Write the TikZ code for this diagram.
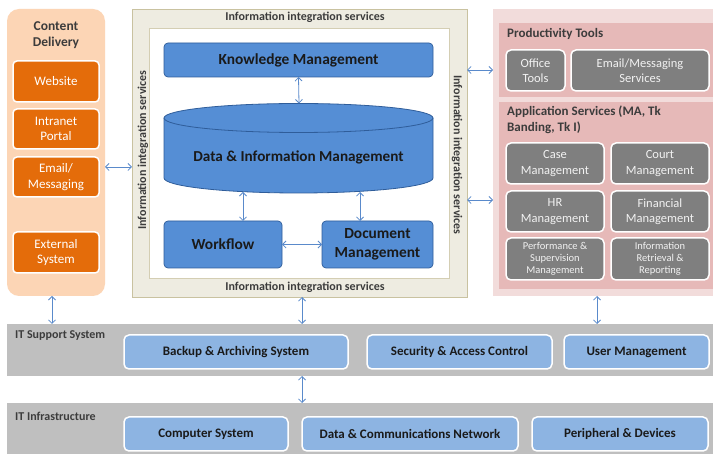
\documentclass[tikz,border=0pt]{standalone}
\usepackage{fontspec}
\setmainfont{Carlito}
\usetikzlibrary{arrows.meta}
\definecolor{cdpanel}{HTML}{FCD5B5}
\definecolor{cdbox}{HTML}{E46C0A}
\definecolor{midout}{HTML}{EEECE1}
\definecolor{midline}{HTML}{C9C2A0}
\definecolor{blu}{HTML}{558ED5}
\definecolor{bluline}{HTML}{2F5D9A}
\definecolor{rpanel}{HTML}{F2DCDB}
\definecolor{rsub}{HTML}{E6B9B8}
\definecolor{gbox}{HTML}{7F7F7F}
\definecolor{band}{HTML}{BFBFBF}
\definecolor{lblu}{HTML}{8DB4E2}
\definecolor{arrc}{HTML}{5A8ACB}
\definecolor{txt}{HTML}{1A1A1A}
\tikzset{
  rect/.style args={#1x#2}{rectangle, minimum width=#1pt, minimum height=#2pt, inner sep=0pt, outer sep=0pt},
  cdp/.style={fill=cdpanel, rounded corners=12pt},
  obox/.style={fill=cdbox, draw=white, line width=1.5pt, rounded corners=4pt, text=white, font=\fontsize{13}{15.5}\selectfont, align=center},
  bbox/.style={fill=blu, draw=bluline, line width=0.7pt, rounded corners=4pt, text=txt, font=\fontsize{15.4}{19}\selectfont\bfseries, align=center},
  gb/.style={fill=gbox, draw=white, line width=1.5pt, rounded corners=5pt, text=white!95!black, font=\fontsize{12.5}{15.5}\selectfont, align=center},
  gbs/.style={fill=gbox, draw=white, line width=1.5pt, rounded corners=5pt, text=white!95!black, font=\fontsize{10.5}{12}\selectfont, align=center},
  lb/.style={fill=lblu, draw=white, line width=1.5pt, rounded corners=5pt, text=txt, font=\fontsize{13}{15}\selectfont\bfseries, align=center},
  iis/.style={text=txt!85, font=\fontsize{12}{14}\selectfont\bfseries, inner sep=0pt},
  ttl/.style={text=txt!85, font=\fontsize{13}{15.5}\selectfont\bfseries, inner sep=0pt, align=left},
  bandlbl/.style={text=txt!85, font=\fontsize{12}{14}\selectfont\bfseries, inner sep=0pt, anchor=west},
  arr/.style={draw=arrc, line width=0.8pt, {Straight Barb[length=3.5pt,width=7pt]}-{Straight Barb[length=3.5pt,width=7pt]}},
}
\begin{document}
\begin{tikzpicture}[x=1pt,y=-1pt]
\useasboundingbox (0,0) rectangle (713,454);
\fill[white] (0,0) rectangle (713,454);

% Content delivery
\node[rect=98x287, cdp] (cd) at (56,152.5) {};
\node[ttl, align=center, font=\fontsize{13.5}{16}\selectfont\bfseries] (cdt) at (56,35) {Content\\Delivery};
\node[rect=86x41, obox] (web) at (56,81.5) {Website};
\node[rect=86x40, obox] (intra) at (56,129) {Intranet\\Portal};
\node[rect=86x40, obox] (email) at (56,177) {Email/\\Messaging};
\node[rect=86x41, obox] (ext) at (56,252.5) {External\\System};

% Middle
\node[rect=335x288, fill=midout, draw=midline, line width=0.8pt] (mid) at (299.5,153) {};
\node[rect=300x250, fill=white, draw=midline!80, line width=0.8pt] (inner) at (299,153) {};
\node[iis] (iistop) at (305,17) {Information integration services};
\node[iis] (iisbot) at (305,287) {Information integration services};
\node[iis, rotate=90] (iisl) at (143,150) {Information integration services};
\node[iis, rotate=-90] (iisr) at (457,155) {Information integration services};

\node[rect=269x34, bbox] (km) at (298.5,60) {Knowledge Management};
% cylinder
\fill[blu] (164,118) -- (164,178) arc[start angle=180, end angle=360, x radius=134.5pt, y radius=15pt] -- (433,118) -- cycle;
\draw[bluline, line width=0.8pt] (164,118) -- (164,178) arc[start angle=180, end angle=360, x radius=134.5pt, y radius=15pt] -- (433,118);
\draw[bluline, line width=0.8pt, fill=blu] (298.5,118) ellipse[x radius=134.5pt, y radius=14.5pt];
\node[text=txt, font=\fontsize{15.2}{19}\selectfont\bfseries, inner sep=0pt] (dim) at (298.5,157) {Data \& Information Management};
\coordinate (cyltop) at (299,103.5);
\coordinate (cylb1) at (243,192);
\coordinate (cylb2) at (360,192);

\node[rect=118x47, bbox] (wf) at (223,244.5) {Workflow};
\node[rect=111x47, bbox] (dm) at (377.5,244.5) {Document\\Management};

% Right
\node[rect=220x287, fill=rpanel] (rp) at (603,152.5) {};
\node[rect=214x74, fill=rsub] (prod) at (606,60) {};
\node[rect=214x187, fill=rsub] (app) at (606,195.5) {};
\node[ttl, anchor=west] (prodt) at (507,34) {Productivity Tools};
\node[ttl, anchor=north west] (appt) at (507,106) {Application Services (MA, Tk\\Banding, Tk I)};
\node[rect=59x41, gb] (office) at (535.5,70.5) {Office\\Tools};
\node[rect=138x41, gb] (ems) at (640,70.5) {Email/Messaging\\Services};
\node[rect=98x41, gb] (case) at (555,163.5) {Case\\Management};
\node[rect=98x41, gb] (court) at (660,163.5) {Court\\Management};
\node[rect=98x41, gb] (hr) at (555,211.5) {HR\\Management};
\node[rect=98x41, gb] (fin) at (660,211.5) {Financial\\Management};
\node[rect=98x42, gbs] (perf) at (555,259) {Performance \&\\Supervision\\Management};
\node[rect=98x42, gbs] (info) at (660,259) {Information\\Retrieval \&\\Reporting};

% Bottom bands
\node[rect=706x52, fill=band] (sup) at (360,350) {};
\node[bandlbl] (supl) at (15,336) {IT Support System};
\node[rect=224x34, lb] (backup) at (236,352) {Backup \& Archiving System};
\node[rect=185x34, lb] (sec) at (459.5,352) {Security \& Access Control};
\node[rect=145x34, lb] (user) at (636.5,352) {User Management};

\node[rect=706x52, fill=band] (infra) at (360,429) {};
\node[bandlbl] (infral) at (15,416) {IT Infrastructure};
\node[rect=164x34, lb] (comp) at (206,434) {Computer System};
\node[rect=216x34, lb] (net) at (410,434) {Data \& Communications Network};
\node[rect=176x34, lb] (peri) at (620,434) {Peripheral \& Devices};

% Arrows
\draw[arr] (km.south) -- (cyltop);
\draw[arr] (cylb1) -- (cylb1 |- wf.north);
\draw[arr] (cylb2) -- (cylb2 |- dm.north);
\draw[arr] (wf.east) -- (dm.west);
\draw[arr] ([yshift=-14.5pt]cd.east) -- ([yshift=-14.5pt]cd.east -| mid.west);
\draw[arr] (mid.east |- 0,70) -- (rp.west |- 0,70);
\draw[arr] (mid.east |- 0,200) -- (rp.west |- 0,200);
\draw[arr] (cd.south -| 52,0) -- (sup.north -| 52,0);
\draw[arr] (mid.south -| 302,0) -- (sup.north -| 302,0);
\draw[arr] (rp.south -| 597,0) -- (sup.north -| 597,0);
\draw[arr] (sup.south -| 302,0) -- (infra.north -| 302,0);
\end{tikzpicture}
\end{document}
